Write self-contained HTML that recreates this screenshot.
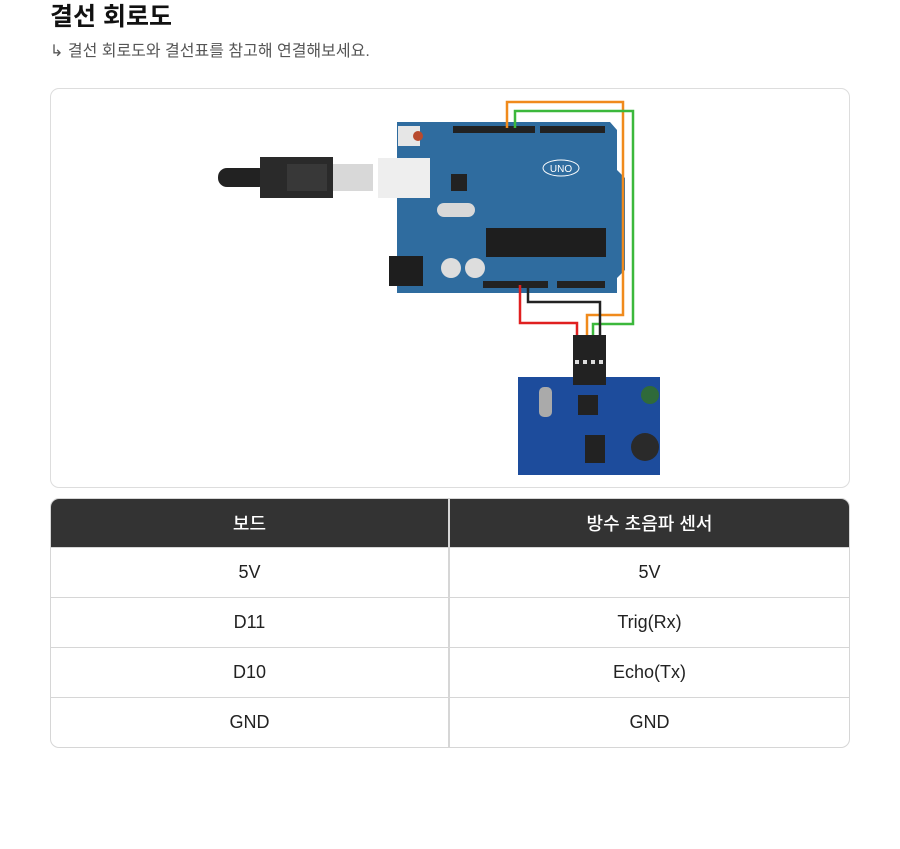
<!DOCTYPE html>
<html><head><meta charset="utf-8"><style>
*{margin:0;padding:0;box-sizing:border-box}
body{width:900px;height:849px;background:#fff;font-family:"Liberation Sans","Noto Sans CJK KR",sans-serif;position:relative;overflow:hidden;color:#222}
h1{position:absolute;left:50px;top:-3px;font-size:25px;font-weight:700;color:#111}
.sub{position:absolute;left:50px;top:37px;font-size:16px;color:#555}
.card{position:absolute;left:50px;top:88px;width:800px;height:400px;border:1px solid #ddd;border-radius:9px}
table{position:absolute;left:50px;top:498px;width:800px;border-collapse:separate;border-spacing:0;border:1px solid #d6d6d6;border-radius:9px;overflow:hidden}
td,th{height:50px;text-align:center;font-size:18px;width:400px;border-bottom:1px solid #d6d6d6}
th{background:#333;color:#fff;font-weight:500;height:49px}
td:first-child,th:first-child{border-right:2px solid #d6d6d6}
tr:last-child td{border-bottom:none;height:49px}
</style></head><body>
<h1>결선 회로도</h1>
<div class="sub">↳ 결선 회로도와 결선표를 참고해 연결해보세요.</div>
<div class="card"></div>
<svg style="position:absolute;left:0;top:0" width="900" height="500">
<rect x="218" y="168" width="50" height="19" rx="9" fill="#222"/>
<rect x="260" y="157" width="73" height="41" fill="#2a2a2a"/>
<rect x="287" y="164" width="40" height="27" fill="#383838"/>
<rect x="333" y="164" width="40" height="27" fill="#d8d8d8"/>
<path d="M397 122 H610 L617 130 V170 L625 178 V270 L617 278 V293 H397 Z" fill="#2f6c9f"/>
<rect x="378" y="158" width="52" height="40" fill="#eeeeee"/>
<rect x="398" y="126" width="22" height="20" fill="#e6e6e6"/><circle cx="418" cy="136" r="5" fill="#b84a2e"/>
<rect x="453" y="126" width="82" height="7" fill="#222"/>
<rect x="540" y="126" width="65" height="7" fill="#222"/>
<rect x="483" y="281" width="65" height="7" fill="#222"/>
<rect x="557" y="281" width="48" height="7" fill="#222"/>
<rect x="486" y="228" width="120" height="29" fill="#1e1e1e"/>
<rect x="451" y="174" width="16" height="17" fill="#222"/>
<rect x="437" y="203" width="38" height="14" rx="7" fill="#d8d8d8"/>
<rect x="389" y="256" width="34" height="30" fill="#1e1e1e"/>
<circle cx="451" cy="268" r="10" fill="#ddd"/><circle cx="475" cy="268" r="10" fill="#ddd"/>
<ellipse cx="561" cy="168" rx="18" ry="8" fill="none" stroke="#fff" stroke-width="1"/>
<text x="561" y="172" font-size="10" fill="#fff" text-anchor="middle" font-family="Liberation Sans">UNO</text>
<g fill="none" stroke-width="2.5">
<path d="M507 128 V102 H623 V315 H587 V340" stroke="#f08a1c"/>
<path d="M515 128 V111 H633 V324 H593 V340" stroke="#3cb83c"/>
<path d="M528 285 V302 H600 V340" stroke="#222"/>
<path d="M520 285 V323 H577 V340" stroke="#e02020"/>
</g>
<rect x="518" y="377" width="142" height="98" fill="#1d4c9c"/>
<circle cx="650" cy="395" r="9" fill="#2f6a3a"/>
<circle cx="645" cy="447" r="14" fill="#2a2a2a"/>
<rect x="539" y="387" width="13" height="30" rx="5" fill="#aaa"/>
<rect x="578" y="395" width="20" height="20" fill="#222"/>
<rect x="585" y="435" width="20" height="28" fill="#222"/>
<rect x="573" y="335" width="33" height="50" fill="#222"/>
<g fill="#ddd"><rect x="575" y="360" width="4" height="4"/><rect x="583" y="360" width="4" height="4"/><rect x="591" y="360" width="4" height="4"/><rect x="599" y="360" width="4" height="4"/></g>
</svg>
<table>
<tr><th>보드</th><th>방수 초음파 센서</th></tr>
<tr><td>5V</td><td>5V</td></tr>
<tr><td>D11</td><td>Trig(Rx)</td></tr>
<tr><td>D10</td><td>Echo(Tx)</td></tr>
<tr><td>GND</td><td>GND</td></tr>
</table>
</body></html>
